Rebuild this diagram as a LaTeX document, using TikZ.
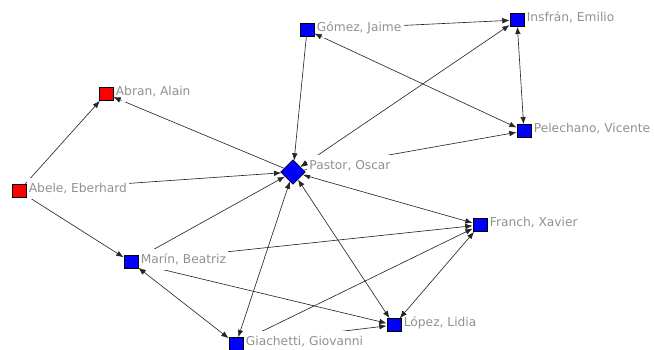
\documentclass[tikz,border=0pt]{standalone}
\usepackage{fontspec}
\setmainfont{DejaVu Sans}
\usepackage{tikz}
\usetikzlibrary{arrows.meta, positioning, shapes.geometric, calc}

\definecolor{actorblue}{RGB}{0,0,255}
\definecolor{actorred}{RGB}{255,0,0}
\definecolor{namegray}{RGB}{145,145,145}

\begin{document}
\begin{tikzpicture}[
    x=0.025cm, y=-0.025cm,
    % author squares
    author/.style={rectangle, draw=black, line width=0.4pt, fill=actorblue,
                   minimum width=0.36cm, minimum height=0.33cm, inner sep=0pt},
    founder/.style={author, fill=actorred},
    % central author
    hub/.style={diamond, draw=black, line width=0.4pt, fill=actorblue,
                minimum width=0.62cm, minimum height=0.62cm, inner sep=0pt},
    % names beside the squares (white box hides the ties behind)
    authorname/.style={fill=white, text=namegray, inner xsep=1.5pt, inner ysep=1.5pt,
                 text height=1.6ex, text depth=0.5ex, yshift=1.8pt,
                 font=\fontsize{8.7}{10}\selectfont},
    % ties
    tie/.style={-{Latex[length=1.8mm, width=1.4mm]}, draw=black!85, line width=0.45pt},
    mutual/.style={{Latex[length=1.8mm, width=1.4mm]}-{Latex[length=1.8mm, width=1.4mm]},
                   draw=black!85, line width=0.45pt}
]
\useasboundingbox (0,0) rectangle (654,350);

% === NODES ===

% red authors on the left
\node[founder] (abran) at (106,94) {};
\node[founder] (abele) at (19,191) {};

% top group
\node[author] (gomez) at (307,30) {};
\node[author] (insfran) at (517,20) {};
\node[author] (pelechano) at (524,131) {};

% Pastor in the middle
\node[hub] (pastor) at (293,172) {};

% lower group
\node[author] (franch) at (480,225) {};
\node[author] (marin) at (131,262) {};
\node[author] (lopez) at (394,325) {};
\node[author] (giachetti) at (236,344) {};

% === TIES ===

\draw[tie] (abele) -- (abran);
\draw[tie] (abele) -- (pastor);
\draw[tie] (abele) -- (marin);
\draw[tie] (pastor) -- (abran);

\draw[tie] (gomez) -- (pastor);
\draw[tie] (gomez) -- (insfran);
\draw[mutual] (gomez) -- (pelechano);
\draw[mutual] (insfran) -- (pelechano);
\draw[mutual] (pastor) -- (insfran);
\draw[tie] (pastor) -- (pelechano);

\draw[mutual] (pastor) -- (franch);
\draw[tie] (marin) -- (pastor);
\draw[tie] (marin) -- (franch);
\draw[tie] (marin) -- (lopez);
\draw[mutual] (marin) -- (giachetti);
\draw[mutual] (pastor) -- (giachetti);
\draw[mutual] (pastor) -- (lopez);
\draw[tie] (giachetti) -- (franch);
\draw[tie] (giachetti) -- (lopez);
\draw[mutual] (lopez) -- (franch);

% === NAMES ===

\node[authorname, right=0pt of abran] (abranL) {Abran, Alain};
\node[authorname, right=0pt of abele] (abeleL) {Abele, Eberhard};
\node[authorname, right=0pt of gomez] (gomezL) {Gómez, Jaime};
\node[authorname, right=0pt of insfran] (insfranL) {Insfrán, Emilio};
\node[authorname, right=0pt of pelechano] (pelechanoL) {Pelechano, Vicente};
\node[authorname, right=1pt of pastor, yshift=3.2pt] (pastorL) {Pastor, Oscar};
\node[authorname, right=0pt of franch] (franchL) {Franch, Xavier};
\node[authorname, right=0pt of marin] (marinL) {Marín, Beatriz};
\node[authorname, right=0pt of lopez] (lopezL) {López, Lidia};
\node[authorname, right=0pt of giachetti] (giachettiL) {Giachetti, Giovanni};

% heads that the names hide, drawn again on top
\draw[tie] ($(abran)!12pt!(pastor)$) -- (abran);
\draw[tie] ($(gomez)!12pt!(pelechano)$) -- (gomez);
\draw[tie] ($(lopez)!12pt!(franch)$) -- (lopez);
\draw[tie] ($(pastor)!12pt!(insfran)$) -- (pastor);
\draw[tie] ($(marin)!12pt!(giachetti)$) -- (marin);

\end{tikzpicture}
\end{document}
